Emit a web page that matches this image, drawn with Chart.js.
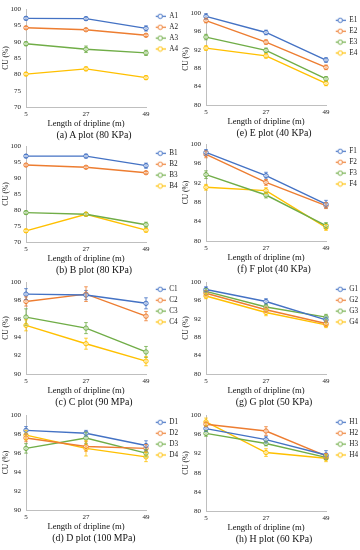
<!DOCTYPE html>
<html><head><meta charset="utf-8">
<script src="https://cdn.jsdelivr.net/npm/chart.js@4.4.1/dist/chart.umd.min.js"></script>
<style>
html,body{margin:0;padding:0;background:#fff;}
body{width:360px;height:550px;position:relative;overflow:hidden;font-family:"Liberation Serif","Times New Roman",serif;}
canvas{position:absolute;}
.cap{position:absolute;width:180px;text-align:center;font-size:9.8px;color:#111;line-height:12px;white-space:nowrap;}
</style></head><body>
<script>
// ---- data ----
const lengths = [5, 27, 49];

const A_names = ['A1','A2','A3','A4'];
const A_values = [[97.2,97.1,94.1],[94.3,93.7,92.0],[89.4,87.7,86.6],[80.1,81.7,79.0]];
const A_errors = [[0.5,0.5,0.8],[0.4,0.4,0.4],[0.6,1.0,0.8],[0.5,0.6,0.6]];

const B_names = ['B1','B2','B3','B4'];
const B_values = [[96.9,96.9,93.9],[94.1,93.4,91.7],[79.2,78.7,75.4],[73.5,78.7,73.7]];
const B_errors = [[0.5,0.6,0.8],[0.4,0.4,0.4],[0.5,0.5,0.8],[0.5,0.6,0.6]];

const C_names = ['C1','C2','C3','C4'];
const C_values = [[98.7,98.6,97.7],[97.9,98.7,96.3],[96.2,95.0,92.4],[95.3,93.3,91.4]];
const C_errors = [[0.6,0.5,0.6],[0.5,0.8,0.5],[0.9,0.6,0.6],[0.6,0.6,0.5]];

const D_names = ['D1','D2','D3','D4'];
const D_values = [[98.4,98.1,96.8],[97.6,96.7,96.5],[96.5,97.6,96.0],[97.9,96.5,95.6]];
const D_errors = [[0.4,0.3,0.5],[0.4,0.5,0.4],[0.5,0.6,0.4],[0.5,0.8,0.5]];

const E_names = ['E1','E2','E3','E4'];
const E_values = [[99.3,95.8,89.8],[98.4,93.7,88.2],[94.8,91.9,85.7],[92.4,90.7,84.7]];
const E_errors = [[0.6,0.5,0.5],[0.5,0.5,0.5],[0.6,0.5,0.5],[0.5,0.5,0.5]];

const F_names = ['F1','F2','F3','F4'];
const F_values = [[98.3,93.5,87.6],[97.9,92.1,87.3],[93.7,89.5,83.2],[91.1,90.4,82.8]];
const F_errors = [[0.6,0.7,0.8],[0.7,0.6,0.6],[0.8,0.6,0.6],[0.6,0.6,0.6]];

const G_names = ['G1','G2','G3','G4'];
const G_values = [[98.4,95.8,91.8],[97.6,94.0,91.0],[98.0,94.6,92.4],[97.0,93.4,90.7]];
const G_errors = [[0.6,0.6,0.6],[0.6,0.6,0.6],[0.6,0.6,0.6],[0.6,0.7,0.6]];

const H_names = ['H1','H2','H3','H4'];
const H_values = [[97.2,94.9,91.7],[98.1,96.7,91.5],[96.2,94.1,91.2],[98.6,92.2,91.0]];
const H_errors = [[0.6,0.7,0.9],[0.5,0.9,0.5],[0.6,0.5,0.5],[0.8,0.8,0.7]];

const xTitle = 'Length of dripline (m)';
const yTitle = 'CU (%)';

// ---- styles / layout ----
const seriesColors = ['#4472C4','#ED7D31','#70AD47','#FFC000'];
const FONT = "'Liberation Serif','Times New Roman',serif";
Chart.defaults.font.family = FONT;

const panels = [
  {names:A_names, values:A_values, errors:A_errors, caption:'(a) A plot (80 KPa)', yMin:70, yMax:100, yStep:5, left:0,   plotTop:9,   plotBottom:107},
  {names:B_names, values:B_values, errors:B_errors, caption:'(b) B plot (80 KPa)', yMin:70, yMax:100, yStep:5, left:0,   plotTop:146, plotBottom:242},
  {names:C_names, values:C_values, errors:C_errors, caption:'(c) C plot (90 MPa)', yMin:90, yMax:100, yStep:2, left:0,   plotTop:282, plotBottom:374},
  {names:D_names, values:D_values, errors:D_errors, caption:'(d) D plot (100 MPa)', yMin:90, yMax:100, yStep:2, left:0,  plotTop:415, plotBottom:510},
  {names:E_names, values:E_values, errors:E_errors, caption:'(e) E plot (40 KPa)', yMin:80, yMax:100, yStep:4, left:180, plotTop:13,  plotBottom:105},
  {names:F_names, values:F_values, errors:F_errors, caption:'(f) F plot (40 KPa)', yMin:80, yMax:100, yStep:4, left:180, plotTop:144, plotBottom:241},
  {names:G_names, values:G_values, errors:G_errors, caption:'(g) G plot (50 KPa)', yMin:80, yMax:100, yStep:4, left:180, plotTop:282, plotBottom:374},
  {names:H_names, values:H_values, errors:H_errors, caption:'(h) H plot (60 KPa)', yMin:80, yMax:100, yStep:4, left:180, plotTop:415, plotBottom:511}
];

function legendIcon(color){
  const c = document.createElement('canvas');
  c.width = 16; c.height = 7;
  const g = c.getContext('2d');
  g.strokeStyle = color; g.lineWidth = 1.2;
  g.beginPath(); g.moveTo(6, 3.5); g.lineTo(16, 3.5); g.stroke();
  g.fillStyle = '#fff'; g.lineWidth = 1;
  g.beginPath(); g.arc(10.5, 3.5, 2.2, 0, Math.PI*2); g.fill(); g.stroke();
  return c;
}
const icons = seriesColors.map(legendIcon);

const errorBars = {
  id: 'errorBars',
  afterDatasetsDraw(chart){
    const ctx = chart.ctx, ys = chart.scales.y;
    chart.data.datasets.forEach((ds, i) => {
      const meta = chart.getDatasetMeta(i);
      ctx.save();
      ctx.strokeStyle = ds.borderColor;
      ctx.lineWidth = 0.8;
      meta.data.forEach((pt, j) => {
        const v = ds.data[j].y, e = ds.errors[j];
        const yt = ys.getPixelForValue(v + e), yb = ys.getPixelForValue(v - e);
        ctx.beginPath();
        ctx.moveTo(pt.x, yt); ctx.lineTo(pt.x, yb);
        ctx.moveTo(pt.x - 1.8, yt); ctx.lineTo(pt.x + 1.8, yt);
        ctx.moveTo(pt.x - 1.8, yb); ctx.lineTo(pt.x + 1.8, yb);
        ctx.stroke();
      });
      ctx.restore();
    });
  }
};

panels.forEach(p => {
  const top = p.plotTop - 9;
  const h = p.plotBottom + 23 - top;
  const cv = document.createElement('canvas');
  cv.width = 180; cv.height = h;
  cv.style.left = p.left + 'px'; cv.style.top = top + 'px';
  cv.style.width = '180px'; cv.style.height = h + 'px';
  document.body.appendChild(cv);

  const cap = document.createElement('div');
  cap.className = 'cap';
  cap.style.left = (p.left + 4) + 'px';
  cap.style.top = (p.plotBottom + 22) + 'px';
  cap.textContent = p.caption;
  document.body.appendChild(cap);

  const datasets = p.names.map((name, i) => ({
    label: name,
    data: lengths.map((x, j) => ({x: x, y: p.values[i][j]})),
    errors: p.errors[i],
    borderColor: seriesColors[i],
    backgroundColor: seriesColors[i],
    borderWidth: 1.4,
    pointRadius: 2.2,
    pointStyle: 'circle',
    pointBackgroundColor: '#ffffff',
    pointBorderColor: seriesColors[i],
    pointBorderWidth: 1,
    tension: 0,
    clip: false
  }));

  new Chart(cv, {
    type: 'line',
    data: {datasets},
    plugins: [errorBars],
    options: {
      responsive: false,
      animation: false,
      devicePixelRatio: 1,
      layout: {padding: {top: 9, left: 0, right: 0, bottom: 0}},
      scales: {
        x: {
          type: 'linear', min: lengths[0], max: lengths[lengths.length-1],
          afterBuildTicks: s => { s.ticks = lengths.map(v => ({value: v})); },
          afterFit: s => { s.height = 23; },
          grid: {display: false, drawTicks: false},
          border: {display: true, color: '#bfbfbf', width: 1},
          ticks: {padding: 3, autoSkip: false, maxRotation: 0, color: '#222', font: {size: 7}},
          title: {display: true, text: xTitle, color: '#111', font: {size: 8.6}, padding: {top: 0, bottom: 1}}
        },
        y: {
          min: p.yMin, max: p.yMax,
          afterFit: s => { s.width = 26; },
          grid: {display: false, drawTicks: false},
          border: {display: true, color: '#bfbfbf', width: 1},
          ticks: {stepSize: p.yStep, padding: 5, color: '#222', font: {size: 7}},
          title: {display: true, text: yTitle, color: '#111', font: {size: 7.5}, padding: {top: 2, bottom: 0}}
        }
      },
      plugins: {
        tooltip: {enabled: false},
        legend: {
          position: 'right', align: 'start', maxWidth: 34,
          labels: {
            usePointStyle: true, pointStyleWidth: 16, boxHeight: 6, padding: 3.7,
            color: '#222', font: {size: 7.2},
            generateLabels: chart => chart.data.datasets.map((ds, i) => ({
              text: ds.label, datasetIndex: i, pointStyle: icons[i],
              fillStyle: ds.borderColor, strokeStyle: ds.borderColor, lineWidth: 0, hidden: false, fontColor: '#222'
            }))
          }
        }
      }
    }
  });
});
</script>
</body></html>
